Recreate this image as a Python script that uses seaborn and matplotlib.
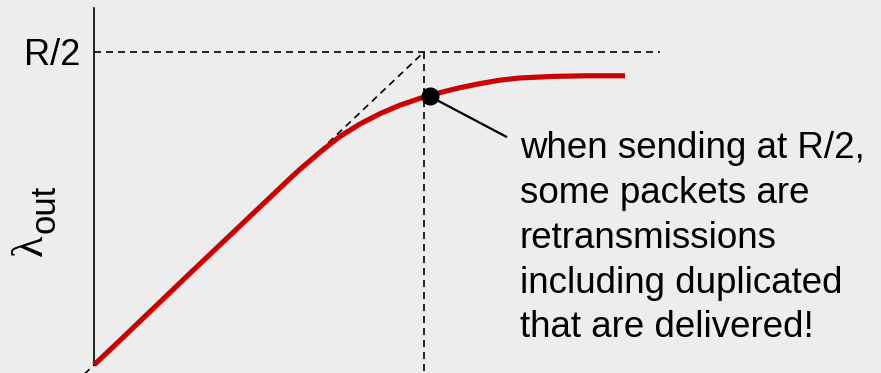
import matplotlib
matplotlib.use("Agg")
import matplotlib.pyplot as plt
import seaborn as sns
import pandas as pd

# Delivered throughput vs offered load, both in units of R/2
offered = [0.0, 0.088, 0.191, 0.291, 0.391, 0.494, 0.594, 0.624, 0.685, 0.745,
           0.806, 0.867, 0.927, 0.988, 1.048, 1.109, 1.170, 1.230, 1.291,
           1.391, 1.494, 1.609]
delivered = [0.0, 0.088, 0.192, 0.293, 0.393, 0.496, 0.596, 0.625, 0.680, 0.730,
             0.770, 0.803, 0.830, 0.852, 0.870, 0.886, 0.899, 0.910, 0.917,
             0.922, 0.924, 0.924]

# Ideal line (out = in) up to capacity R/2
ideal_x = [-0.05, 1.0]
ideal_y = [-0.05, 1.0]
capacity = 1.0
capacity_line_end = 1.715

# Operating point when sending at R/2
point_x, point_y = 1.018, 0.858
callout_end = (1.2515, 0.728)

y_tick_label = "R/2"
y_label_main = "λ"
y_label_sub = "out"
note_lines = [
    "when sending at R/2,",
    "some packets are",
    "retransmissions",
    "including duplicated",
    "that are delivered!",
]

sns.set_theme(style="white")
plt.rcParams["font.family"] = ["Liberation Sans", "DejaVu Sans"]

bg = "#ededed"
fig = plt.figure(figsize=(8.81, 3.73), dpi=100, facecolor=bg)
ax = fig.add_axes([0, 0, 1, 1])
ax.set_facecolor("none")
ax.set_xlim(-0.2848, 2.3848)
ax.set_ylim(-0.02556, 1.1661)

# vertical axis only
for side in ["top", "right", "bottom"]:
    ax.spines[side].set_visible(False)
ax.spines["left"].set_position(("data", 0))
ax.spines["left"].set_bounds(0, 1.14)
ax.spines["left"].set_color("black")
ax.spines["left"].set_linewidth(1.2)
ax.set_xticks([])
ax.set_yticks([])

dash = dict(color="black", lw=1.2, linestyle=(0, (4.2, 3.0)), zorder=2)
ax.plot([0, capacity_line_end], [capacity, capacity], **dash)
ax.plot([capacity, capacity], [capacity, -0.05], **dash)
ax.plot(ideal_x, ideal_y, **dash)

df = pd.DataFrame({"offered": offered, "delivered": delivered})
sns.lineplot(data=df, x="offered", y="delivered", ax=ax, color="#cc0000",
             linewidth=3.7, sort=False, zorder=3, solid_capstyle="butt",
             solid_joinstyle="round")
ax.set_xlabel("")
ax.set_ylabel("")

# callout from the operating point
ax.plot([point_x, callout_end[0]], [point_y, callout_end[1]],
        color="black", lw=1.6, zorder=4, solid_capstyle="butt")
ax.plot([point_x], [point_y], marker="o", markersize=12,
        color="black", zorder=5)

ax.text(-0.042, 0.958, y_tick_label, ha="right", va="baseline",
        fontsize=26, color="black")

ax.text(-0.191, 0.383, y_label_main, rotation=90, ha="center", va="center",
        fontsize=32, family=["Liberation Serif", "DejaVu Serif"], color="black")
ax.text(-0.148, 0.498, y_label_sub, rotation=90, ha="center", va="center",
        fontsize=25, color="black")

baselines = [0.661, 0.518, 0.374, 0.230, 0.089]
for line, yb in zip(note_lines, baselines):
    ax.text(1.29, yb, line, ha="left", va="baseline", fontsize=26.5,
            color="black")

fig.savefig("out.png", dpi=100, facecolor=bg)
